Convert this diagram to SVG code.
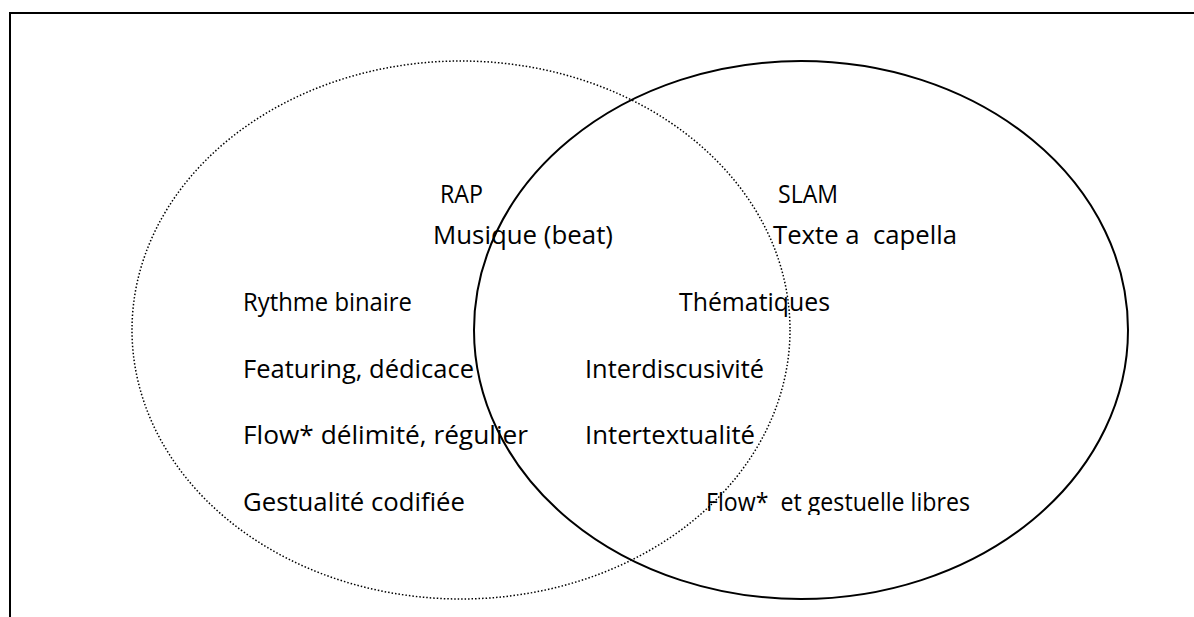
<svg xmlns="http://www.w3.org/2000/svg" width="1194" height="617" viewBox="0 0 1194 617">
<style>
.t{font-family:"Open Sans","Liberation Sans",sans-serif;font-size:25.5px;fill:#000}
.dot{fill:none;stroke:#000;stroke-width:1.5;stroke-dasharray:1.5 2}
.sol{fill:none;stroke:#000;stroke-width:2}
.frame{fill:none;stroke:#000;stroke-width:2}
</style>
<defs>
<clipPath id="clipBottom"><rect x="0" y="0" width="1194" height="515"/></clipPath>
</defs>
<g id="frame">
<polyline class="frame" points="10,617 10,13 1194,13"/>
</g>
<g id="connectors"></g>
<g id="rap">
<ellipse class="dot" cx="461" cy="330" rx="329" ry="269"/>
<text class="t" x="440" y="203" textLength="43" lengthAdjust="spacingAndGlyphs">RAP</text>
</g>
<g id="slam">
<ellipse class="sol" cx="801" cy="330" rx="327" ry="269"/>
<text class="t" x="778" y="203" textLength="60" lengthAdjust="spacingAndGlyphs">SLAM</text>
</g>
<g id="labels">
<text class="t" x="433" y="244" textLength="180" lengthAdjust="spacingAndGlyphs">Musique (beat)</text>
<text class="t" x="773" y="244" textLength="184" lengthAdjust="spacingAndGlyphs" xml:space="preserve">Texte a  capella</text>
<text class="t" x="243" y="311" textLength="169" lengthAdjust="spacingAndGlyphs">Rythme binaire</text>
<text class="t" x="679" y="311" textLength="151" lengthAdjust="spacingAndGlyphs">Thématiques</text>
<text class="t" x="243" y="378" textLength="231" lengthAdjust="spacingAndGlyphs">Featuring, dédicace</text>
<text class="t" x="585" y="378" textLength="179" lengthAdjust="spacingAndGlyphs">Interdiscusivité</text>
<text class="t" x="243" y="444" textLength="285" lengthAdjust="spacingAndGlyphs">Flow* délimité, régulier</text>
<text class="t" x="585" y="444" textLength="170" lengthAdjust="spacingAndGlyphs">Intertextualité</text>
<g clip-path="url(#clipBottom)">
<text class="t" x="243" y="511" textLength="222" lengthAdjust="spacingAndGlyphs">Gestualité codifiée</text>
<text class="t" x="706" y="511" textLength="264" lengthAdjust="spacingAndGlyphs" xml:space="preserve">Flow*  et gestuelle libres</text>
</g>
</g>
</svg>
